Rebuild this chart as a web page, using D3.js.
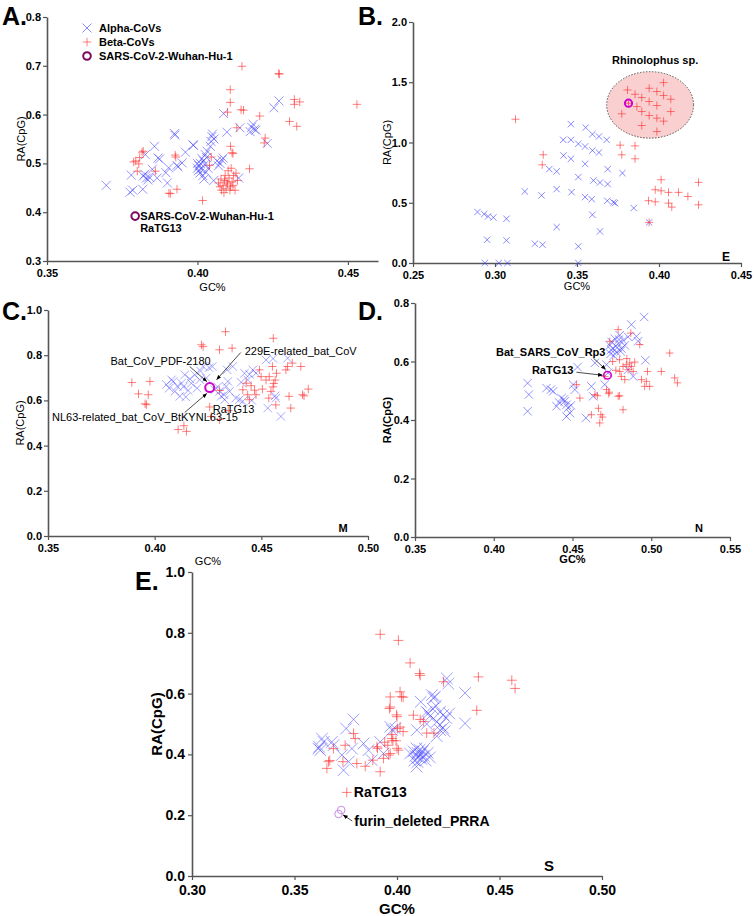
<!DOCTYPE html>
<html><head><meta charset="utf-8">
<script src="https://cdn.jsdelivr.net/npm/d3@7"></script>
<style>
body{margin:0;background:#fff;}
svg{font-family:"Liberation Sans",Arial,sans-serif;}
</style></head><body>
<svg id="c" width="755" height="916"></svg>
<script>
// ---------- Panel A (whole genome) ----------
const alphaA = [[0.3697,0.455],[0.378,0.476],[0.3785,0.445],[0.3776,0.441],[0.3818,0.447],[0.382,0.474],[0.383,0.470],[0.3825,0.478],[0.384,0.472],[0.3835,0.466],[0.3827,0.518],[0.3857,0.535],[0.385,0.488],[0.3866,0.470],[0.3874,0.509],[0.3869,0.511],[0.3895,0.481],[0.390,0.460],[0.3904,0.491],[0.3924,0.561],[0.3925,0.558],[0.3932,0.496],[0.3935,0.493],[0.3949,0.501],[0.396,0.523],[0.3985,0.538],[0.3987,0.537],
[0.400,0.490],[0.4003,0.485],[0.4005,0.495],[0.401,0.500],[0.4012,0.488],[0.4015,0.510],[0.402,0.505],[0.4008,0.480],[0.4018,0.475],[0.4025,0.498],[0.403,0.512],[0.4022,0.468],[0.400,0.500],[0.4028,0.482],[0.4035,0.490],
[0.4026,0.518],[0.4032,0.525],[0.4043,0.535],[0.4048,0.555],[0.405,0.560],[0.4055,0.550],[0.4045,0.545],[0.4054,0.465],[0.4075,0.500],[0.407,0.495],[0.4065,0.505],[0.4085,0.511],[0.4081,0.507],[0.4098,0.564],[0.4087,0.602],[0.4137,0.470],[0.4141,0.573],[0.418,0.574],[0.4185,0.580],[0.419,0.570],[0.4194,0.568],[0.4175,0.565],[0.4232,0.541],[0.4254,0.614],[0.4271,0.628]];
const betaA = [[0.3788,0.503],[0.3795,0.505],[0.380,0.484],[0.3808,0.512],[0.382,0.525],[0.3816,0.523],[0.3805,0.499],[0.386,0.484],[0.391,0.438],[0.3905,0.439],[0.3932,0.447],[0.3926,0.517],[0.3928,0.513],[0.4017,0.424],[0.4046,0.513],[0.404,0.496],
[0.407,0.460],[0.4075,0.452],[0.408,0.445],[0.4085,0.455],[0.409,0.465],[0.4095,0.448],[0.410,0.458],[0.4105,0.470],[0.411,0.452],[0.4115,0.462],[0.412,0.475],[0.4125,0.445],[0.4092,0.475],[0.4102,0.485],[0.4112,0.490],[0.4088,0.440],[0.4118,0.455],[0.4128,0.480],[0.4098,0.462],[0.4078,0.468],[0.4108,0.445],[0.4133,0.465],
[0.4118,0.520],[0.4115,0.522],[0.411,0.535],[0.410,0.605],[0.4109,0.651],[0.4109,0.625],[0.4148,0.699],[0.4145,0.610],[0.4153,0.609],[0.4131,0.573],[0.4173,0.489],[0.4207,0.597],[0.4225,0.552],[0.4222,0.542],[0.427,0.684],[0.4272,0.683],[0.4306,0.586],[0.4322,0.631],[0.4322,0.621],[0.433,0.576],[0.434,0.626],[0.453,0.621]];
const sarsA = [[0.3793,0.392]];
const xTicksA = [0.35,0.40,0.45], yTicksA = [0.3,0.4,0.5,0.6,0.7,0.8];

// ---------- Panel B (E gene) ----------
const alphaB = [[0.2893,0.423],[0.2934,0.406],[0.2958,0.387],[0.299,0.378],[0.307,0.367],[0.2952,0.193],[0.307,0.188],[0.2938,0.0],[0.3023,0.0],[0.3076,0.0],[0.3182,0.594],[0.3284,0.561],[0.3243,0.160],[0.329,0.152],[0.3331,0.779],[0.3376,0.760],[0.3376,0.613],[0.3376,0.298],[0.3416,1.022],[0.3463,1.152],[0.3463,1.022],[0.3418,0.892],[0.3463,0.865],[0.3467,0.588],[0.3508,0.989],[0.3508,0.713],[0.3508,0.138],[0.3508,0.0],[0.3553,1.124],[0.3549,0.967],[0.3594,0.934],[0.3549,0.823],[0.3549,0.547],[0.359,0.530],[0.3594,1.069],[0.3634,1.050],[0.3681,1.022],[0.3634,0.917],[0.360,0.685],[0.364,0.668],[0.3687,0.655],[0.3594,0.400],[0.364,0.262],[0.3687,0.779],[0.3685,0.516],[0.3722,0.503],[0.3732,0.497],[0.3777,0.746],[0.3846,0.456],[0.394,0.337]];
const betaB = [[0.3125,1.193],[0.3294,0.898],[0.3288,0.815],[0.3763,0.978],[0.3773,0.898],[0.3854,0.972],[0.3854,0.865],
[0.3808,1.436],[0.3854,1.400],[0.3773,1.238],[0.3865,1.298],[0.3895,1.373],[0.3895,1.257],[0.3895,1.141],[0.394,1.450],[0.394,1.340],[0.394,1.224],[0.3987,1.423],[0.3987,1.307],[0.3987,1.202],[0.3987,1.091],[0.4028,1.497],[0.4028,1.390],[0.4028,1.177],[0.4072,1.359],[0.4072,1.257],[0.3814,1.326],
[0.3936,0.517],[0.3977,0.508],[0.3977,0.608],[0.4013,0.691],[0.4013,0.599],[0.4058,0.586],[0.4058,0.497],[0.4078,0.464],[0.4119,0.586],[0.4176,0.552],[0.4241,0.669],[0.4241,0.483],[0.394,0.337]];
const sarsB = [[0.3814,1.326]];
const rhinoEllipse = [0.3946,1.312,0.0265,0.276]; // cx, cy, rx, ry in data units
const xTicksB = [0.25,0.30,0.35,0.40,0.45], yTicksB = [0.0,0.5,1.0,1.5,2.0];

// ---------- Panel C (M gene) ----------
const alphaC = [[0.4068,0.654],[0.4087,0.684],[0.4106,0.662],[0.4126,0.676],[0.4146,0.615],[0.4157,0.644],[0.4172,0.676],[0.4188,0.713],[0.4199,0.654],[0.4211,0.691],[0.4227,0.750],[0.4242,0.699],[0.427,0.750],[0.4281,0.647],[0.4304,0.640],[0.4312,0.618],[0.4328,0.603],[0.4335,0.662],[0.4343,0.684],[0.4351,0.640],[0.4366,0.750],[0.438,0.610],[0.4397,0.603],[0.4413,0.596],[0.4421,0.720],[0.4436,0.691],[0.446,0.735],[0.4522,0.779],[0.453,0.566],[0.4568,0.610],[0.4592,0.529],[0.4623,0.787],[0.4118,0.618],[0.4141,0.713],[0.4079,0.691],[0.4055,0.670],[0.4095,0.640],[0.4135,0.660],[0.4165,0.695],[0.4215,0.730],[0.4255,0.745],[0.4295,0.660],[0.4325,0.625],[0.434,0.735],[0.4445,0.715],[0.4455,0.600],[0.4405,0.680],[0.4475,0.720],[0.4555,0.785],[0.4565,0.620]];
const betaC = [[0.3893,0.679],[0.3924,0.629],[0.3962,0.581],[0.397,0.625],[0.3978,0.684],[0.3955,0.585],[0.411,0.471],[0.4137,0.488],[0.4149,0.463],[0.4219,0.846],[0.4227,0.838],[0.4258,0.571],[0.4265,0.529],[0.4304,0.824],[0.4332,0.904],[0.4363,0.831],[0.4304,0.515],[0.4304,0.644],[0.4413,0.647],[0.4429,0.676],[0.4436,0.625],[0.4444,0.603],[0.4452,0.665],[0.4468,0.645],[0.4475,0.625],[0.4491,0.735],[0.4499,0.705],[0.4505,0.650],[0.4522,0.690],[0.4537,0.705],[0.4545,0.640],[0.4552,0.750],[0.4558,0.675],[0.4565,0.690],[0.4568,0.580],[0.4571,0.720],[0.4556,0.875],[0.4623,0.750],[0.4615,0.735],[0.4645,0.765],[0.463,0.618],[0.4638,0.566],[0.4685,0.750],[0.4693,0.625],[0.470,0.620],[0.472,0.650],[0.4555,0.660],[0.4535,0.610],[0.4345,0.555]];
const sarsC = [[0.4258,0.657]];
const xTicksC = [0.35,0.40,0.45,0.50], yTicksC = [0.0,0.2,0.4,0.6,0.8,1.0];

// ---------- Panel D (N gene) ----------
const alphaD = [[0.4215,0.526],[0.4223,0.487],[0.4215,0.430],[0.4335,0.509],[0.4363,0.504],[0.4377,0.498],[0.4399,0.447],[0.443,0.475],[0.4451,0.464],[0.4462,0.452],[0.4472,0.441],[0.4483,0.424],[0.4462,0.412],[0.4504,0.521],[0.4515,0.504],[0.4532,0.581],[0.4585,0.407],[0.462,0.515],[0.4631,0.481],[0.4642,0.595],[0.4705,0.521],[0.4726,0.561],
[0.4737,0.655],[0.4748,0.667],[0.4758,0.644],[0.4769,0.678],[0.4779,0.632],[0.479,0.661],[0.480,0.690],[0.4811,0.644],[0.4821,0.672],[0.4832,0.655],[0.4742,0.626],[0.4853,0.684],[0.4762,0.620],[0.4784,0.648],[0.4805,0.635],[0.4745,0.640],[0.4795,0.675],
[0.4874,0.726],[0.4955,0.752],[0.4906,0.686],[0.4916,0.669],[0.4963,0.604],[0.4885,0.549],[0.4853,0.572],[0.4716,0.589],[0.4445,0.470],[0.449,0.450],[0.4415,0.460]];
const betaD = [[0.4525,0.521],[0.4547,0.475],[0.462,0.418],[0.4642,0.487],[0.4658,0.483],[0.468,0.418],[0.4673,0.390],[0.4705,0.549],[0.4716,0.504],[0.4733,0.495],[0.473,0.490],[0.479,0.481],[0.4799,0.483],[0.4737,0.669],[0.479,0.709],[0.4821,0.435],[0.4799,0.606],[0.4821,0.583],[0.4842,0.589],[0.4853,0.572],[0.4863,0.595],[0.4874,0.583],[0.4885,0.566],[0.4832,0.538],[0.480,0.566],[0.481,0.549],[0.487,0.697],[0.4927,0.658],[0.4969,0.532],[0.4958,0.515],[0.4976,0.566],[0.4938,0.538],[0.5064,0.566],[0.5117,0.629],[0.5149,0.544],[0.5166,0.527],[0.499,0.515],[0.4755,0.600],[0.4775,0.570],[0.469,0.410],[0.4665,0.440],[0.4845,0.610],[0.4895,0.598]];
const sarsD = [[0.4722,0.553]];
const xTicksD = [0.35,0.40,0.45,0.50,0.55], yTicksD = [0.0,0.2,0.4,0.6,0.8];

// ---------- Panel E (S gene) ----------
const alphaE = [[0.3617,0.419],[0.3626,0.414],[0.3634,0.452],[0.3642,0.441],[0.362,0.425],[0.3682,0.441],[0.369,0.430],[0.3731,0.398],[0.3739,0.348],[0.3752,0.485],[0.3788,0.515],[0.3764,0.376],[0.378,0.419],[0.3837,0.436],[0.3861,0.414],[0.3877,0.381],[0.3918,0.441],[0.3934,0.403],[0.3967,0.491],[0.3975,0.480],[0.3991,0.485],[0.4064,0.403],
[0.408,0.410],[0.409,0.395],[0.4095,0.420],[0.410,0.405],[0.4105,0.390],[0.411,0.415],[0.4115,0.400],[0.412,0.385],[0.4125,0.410],[0.410,0.375],[0.4085,0.380],[0.413,0.395],[0.4135,0.420],[0.414,0.380],[0.415,0.405],[0.416,0.390],[0.4095,0.360],
[0.4097,0.480],[0.4116,0.573],[0.4145,0.540],[0.4152,0.535],[0.416,0.525],[0.417,0.595],[0.4178,0.585],[0.4185,0.590],[0.4194,0.507],[0.421,0.497],[0.4225,0.487],[0.4232,0.476],[0.421,0.540],[0.4225,0.530],[0.424,0.520],[0.4255,0.535],[0.4243,0.650],[0.425,0.633],[0.4332,0.602],[0.4332,0.502],[0.4194,0.460],[0.421,0.480],[0.4145,0.500],[0.4175,0.550],[0.419,0.560]];
const betaE = [[0.3918,0.795],[0.4007,0.775],[0.4064,0.701],[0.411,0.666],[0.4113,0.660],[0.4227,0.639],[0.4397,0.655],[0.456,0.644],[0.4576,0.617],[0.4389,0.545],[0.4015,0.606],[0.4022,0.590],[0.403,0.588],[0.3967,0.589],[0.3967,0.556],[0.3963,0.551],[0.400,0.524],[0.3998,0.530],[0.4002,0.485],[0.4015,0.490],[0.403,0.475],[0.3975,0.452],[0.398,0.445],[0.3995,0.445],[0.4007,0.414],[0.400,0.420],[0.3967,0.403],[0.396,0.398],[0.3934,0.387],[0.3918,0.343],[0.3902,0.425],[0.3905,0.420],[0.3882,0.381],[0.3845,0.361],[0.3804,0.370],[0.3788,0.469],[0.3796,0.452],[0.3747,0.430],[0.3736,0.376],[0.369,0.419],[0.3666,0.376],[0.3658,0.354],[0.3672,0.380],[0.4113,0.515],[0.413,0.508],[0.418,0.470],[0.4145,0.470],[0.408,0.529],[0.3975,0.465],[0.394,0.440],[0.3955,0.430]];
const ratg13E = [[0.3755,0.275]];
const furinE = [[0.3728,0.217],[0.3715,0.204]];
const xTicksE = [0.30,0.35,0.40,0.45,0.50], yTicksE = [0.0,0.2,0.4,0.6,0.8,1.0];

// ---------- drawing ----------
const svg = d3.select('#c');
const BLUE = '#3c3cff', RED = '#ff2a2a';
const defs = svg.append('defs');
defs.append('marker').attr('id','arr').attr('viewBox','0 0 10 10').attr('refX',9).attr('refY',5)
  .attr('markerWidth',7).attr('markerHeight',7).attr('orient','auto-start-reverse')
  .append('path').attr('d','M0,1 L10,5 L0,9 Z').attr('fill','#000');

function panel(o){
  const g = svg.append('g');
  const x = d3.scaleLinear().domain(o.xd).range(o.xr);
  const y = d3.scaleLinear().domain(o.yd).range(o.yr);
  const xa = g.append('g').attr('transform',`translate(0,${o.yr[0]})`)
    .call(d3.axisBottom(x).tickValues(o.xt).tickFormat(d3.format('.2f')).tickSize(4).tickSizeOuter(0).tickPadding(o.tp||3));
  const ya = g.append('g').attr('transform',`translate(${o.xr[0]},0)`)
    .call(d3.axisLeft(y).tickValues(o.yt).tickFormat(d3.format('.1f')).tickSize(4).tickSizeOuter(0).tickPadding(o.tpy||2));
  [xa,ya].forEach(a=>{
    a.select('.domain').attr('stroke','#555').attr('stroke-width',1.6);
    a.selectAll('.tick line').attr('stroke','#555').attr('stroke-width',1.2);
    a.selectAll('.tick text').attr('fill','#000').attr('font-weight','bold')
      .attr('font-size',o.fs).attr('font-family','"Liberation Sans",Arial,sans-serif');
  });
  g.append('text').attr('x',(o.xr[0]+o.xr[1])/2).attr('y',o.gcY).attr('text-anchor','middle')
    .attr('font-size',o.lfs).attr('font-weight',o.lw).text('GC%');
  g.append('text').attr('transform',`translate(${o.raX},${(o.yr[0]+o.yr[1])/2}) rotate(-90)`)
    .attr('text-anchor','middle').attr('font-size',o.lfs).attr('font-weight',o.lw).text('RA(CpG)');
  g.append('text').attr('x',o.lx).attr('y',o.ly).attr('font-size',25).attr('font-weight','bold').text(o.letter);
  return {g,x,y};
}
function xs(s){return `M${-s},${-s}L${s},${s}M${-s},${s}L${s},${-s}`;}
function ps(s){return `M${-s},0H${s}M0,${-s}V${s}`;}
function pts(P,data,shape,s,color,op,sw){
  P.g.append('g').selectAll('path').data(data).enter().append('path')
    .attr('transform',d=>`translate(${P.x(d[0])},${P.y(d[1])})`)
    .attr('d',shape==='x'?xs(s):ps(s)).attr('fill','none')
    .attr('stroke',color).attr('stroke-opacity',op).attr('stroke-width',sw||1);
}
function circ(P,data,r,color,sw){
  P.g.append('g').selectAll('circle').data(data).enter().append('circle')
    .attr('cx',d=>P.x(d[0])).attr('cy',d=>P.y(d[1])).attr('r',r)
    .attr('fill','none').attr('stroke',color).attr('stroke-width',sw);
}
function txt(P,x,y,t,fs,fw,anchor){
  return P.g.append('text').attr('x',x).attr('y',y).attr('font-size',fs).attr('font-weight',fw||'normal')
    .attr('text-anchor',anchor||'start').text(t);
}
function arrow(P,x1,y1,x2,y2){
  P.g.append('line').attr('x1',x1).attr('y1',y1).attr('x2',x2).attr('y2',y2)
    .attr('stroke','#000').attr('stroke-width',0.7).attr('marker-end','url(#arr)');
}

// Panel A
const A = panel({xd:[0.35,0.46],xr:[47,378],yd:[0.3,0.8],yr:[261,17],xt:xTicksA,yt:yTicksA,fs:11,lfs:11,lw:'normal',
  gcY:291,raX:25,lx:2,ly:25,letter:'A.',tp:4});
pts(A,alphaA,'x',4.5,BLUE,0.55,1);
pts(A,betaA,'+',4.2,RED,0.6,1);
circ(A,sarsA,3.8,'#7a0a5e',2);
txt(A,A.x(sarsA[0][0])+5,A.y(sarsA[0][1])+4,'SARS-CoV-2-Wuhan-Hu-1',11,'bold');
txt(A,A.x(sarsA[0][0])+5,A.y(sarsA[0][1])+16,'RaTG13',11,'bold');
{
  const lg = A.g.append('g').attr('transform','translate(87,28)');
  lg.append('path').attr('d',xs(4.5)).attr('stroke',BLUE).attr('stroke-opacity',0.6).attr('fill','none');
  lg.append('path').attr('transform','translate(0,14)').attr('d',ps(4.2)).attr('stroke',RED).attr('stroke-opacity',0.6).attr('fill','none');
  lg.append('circle').attr('cy',28).attr('r',3.8).attr('fill','none').attr('stroke','#7a0a5e').attr('stroke-width',2);
  ['Alpha-CoVs','Beta-CoVs','SARS-CoV-2-Wuhan-Hu-1'].forEach((t,i)=>{
    lg.append('text').attr('x',12).attr('y',i*14+4).attr('font-size',11).attr('font-weight','bold').text(t);
  });
}

// Panel B
const B = panel({xd:[0.25,0.45],xr:[413,741],yd:[0,2],yr:[263,22],xt:xTicksB,yt:yTicksB,fs:11,lfs:11,lw:'normal',
  gcY:290,raX:391,lx:358,ly:25,letter:'B.',tp:4});
{
  const [cx,cy,rx,ry] = rhinoEllipse;
  B.g.append('ellipse').attr('cx',B.x(cx)).attr('cy',B.y(cy))
    .attr('rx',B.x(cx+rx)-B.x(cx)).attr('ry',B.y(cy)-B.y(cy+ry))
    .attr('fill','#f9cfcf').attr('stroke','#444').attr('stroke-width',0.9).attr('stroke-dasharray','1.5,1.5');
  txt(B,B.x(cx)+5,B.y(cy+ry)-8,'Rhinolophus sp.',11,'bold','middle');
}
pts(B,alphaB,'x',3.2,BLUE,0.6,1);
pts(B,betaB,'+',4,RED,0.6,1);
circ(B,sarsB,3.6,'#d000d0',2);
txt(B,726,261,'E',12,'bold','middle');

// Panel C
const C = panel({xd:[0.35,0.50],xr:[48,368],yd:[0,1],yr:[536,310],xt:xTicksC,yt:yTicksC,fs:11,lfs:11,lw:'normal',
  gcY:565,raX:24,lx:2,ly:320,letter:'C.',tp:4});
pts(C,alphaC,'x',4.2,BLUE,0.45,1);
pts(C,betaC,'+',4.2,RED,0.6,1);
circ(C,sarsC,4.5,'#d000d0',2);
{
  const cx = C.x(sarsC[0][0]), cy = C.y(sarsC[0][1]);
  txt(C,cx+1,cy-23,'Bat_CoV_PDF-2180',11,'normal','end');
  arrow(C,cx-20,cy-21,cx-3,cy-6);
  txt(C,cx+35,cy-33,'229E-related_bat_CoV',11,'normal');
  arrow(C,cx+31,cy-35,cx+7,cy-8);
  txt(C,52,cy+33,'NL63-related_bat_CoV_BtKYNL63-15',11,'normal');
  arrow(C,cx-25,cy+25,cx-3,cy+6);
  txt(C,cx+3,cy+25,'RaTG13',11,'normal');
  txt(C,343,532,'M',11,'bold','middle');
}

// Panel D
const D = panel({xd:[0.35,0.55],xr:[415,730],yd:[0,0.8],yr:[537,303],xt:xTicksD,yt:yTicksD,fs:11,lfs:11,lw:'bold',
  gcY:563,raX:391,lx:358,ly:320,letter:'D.',tp:4});
pts(D,alphaD,'x',4.2,BLUE,0.55,1);
pts(D,betaD,'+',3.8,RED,0.6,1);
circ(D,sarsD,3.8,'#d000d0',1.5);
{
  const cx = D.x(sarsD[0][0]), cy = D.y(sarsD[0][1]);
  txt(D,cx-2,cy-19,'Bat_SARS_CoV_Rp3',11,'bold','end');
  arrow(D,cx-14,cy-17,cx-2,cy-6);
  txt(D,cx-34,cy-1,'RaTG13',11,'bold','end');
  arrow(D,cx-31,cy-3,cx-5,cy);
  txt(D,699,532,'N',11,'bold','middle');
}

// Panel E
const E = panel({xd:[0.30,0.50],xr:[192,602],yd:[0,1],yr:[876,572],xt:xTicksE,yt:yTicksE,fs:14,lfs:15,lw:'bold',
  gcY:914,raX:162,lx:135,ly:590,letter:'E.',tp:5,tpy:3});
pts(E,alphaE,'x',5.8,BLUE,0.5,1);
pts(E,betaE,'+',5,RED,0.6,1);
pts(E,ratg13E,'+',5,RED,0.6,1);
circ(E,furinE,3.8,'#c78ae6',1);
{
  const rx = E.x(ratg13E[0][0]), ry = E.y(ratg13E[0][1]);
  txt(E,rx+7,ry+5,'RaTG13',14,'bold');
  const fx = E.x(furinE[0][0]), fy = E.y(furinE[0][1]);
  txt(E,fx+13,fy+16,'furin_deleted_PRRA',14,'bold');
  arrow(E,fx+11,fy+11,fx+2,fy+5);
  txt(E,549,871,'S',15,'bold','middle');
}
</script>
</body></html>
